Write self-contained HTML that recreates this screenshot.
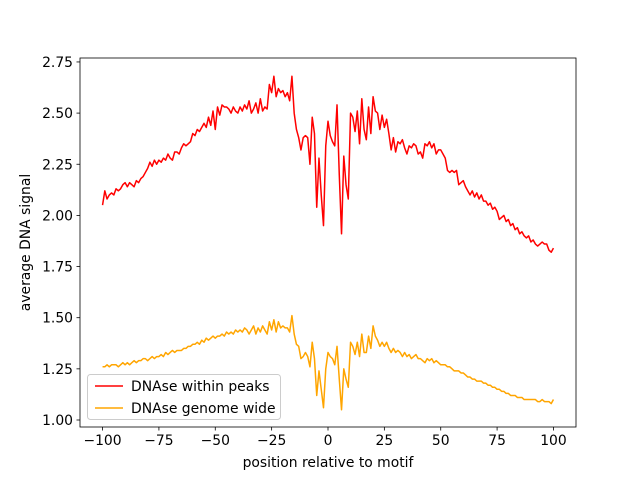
<!DOCTYPE html>
<html><head><meta charset="utf-8"><style>
body{margin:0;background:#fff}
svg text{font-family:"DejaVu Sans","Liberation Sans",sans-serif;font-size:13.9px;fill:#000}
</style></head><body>
<svg id="chart" width="640" height="480" xmlns="http://www.w3.org/2000/svg">
<rect x="0" y="0" width="640" height="480" fill="#fff"/>
<g id="plot"></g>
</svg>
<script>
const positions = [];
for (let i = -100; i <= 100; i++) positions.push(i);
const withinPeaks = [
2.05,2.12,2.08,2.10,2.11,2.10,2.13,2.12,2.13,2.15,2.16,2.14,2.16,2.15,2.14,2.17,2.16,2.18,2.19,2.21,2.23,2.26,2.24,2.27,2.25,
2.27,2.26,2.28,2.27,2.30,2.28,2.27,2.31,2.31,2.30,2.33,2.35,2.34,2.35,2.36,2.40,2.39,2.42,2.41,2.43,2.45,2.43,2.48,2.44,2.51,
2.42,2.53,2.49,2.54,2.53,2.53,2.52,2.50,2.53,2.51,2.50,2.53,2.51,2.54,2.52,2.56,2.50,2.52,2.55,2.50,2.57,2.51,2.53,2.52,2.64,
2.60,2.68,2.58,2.62,2.60,2.61,2.58,2.60,2.56,2.68,2.50,2.42,2.38,2.32,2.38,2.39,2.38,2.25,2.48,2.40,2.04,2.28,2.10,1.95,2.34,
2.46,2.39,2.36,2.34,2.54,2.20,1.91,2.29,2.15,2.08,2.50,2.48,2.41,2.51,2.35,2.57,2.42,2.37,2.53,2.40,2.58,2.51,2.50,2.42,2.49,
2.43,2.47,2.40,2.32,2.38,2.31,2.36,2.35,2.37,2.33,2.30,2.34,2.33,2.35,2.34,2.30,2.31,2.28,2.35,2.34,2.36,2.33,2.35,2.30,2.32,2.32,
2.30,2.28,2.22,2.21,2.22,2.21,2.22,2.15,2.16,2.17,2.14,2.12,2.10,2.12,2.09,2.11,2.08,2.10,2.07,2.07,2.05,2.06,2.03,2.04,2.02,
1.98,1.99,2.00,1.97,1.98,1.95,1.96,1.93,1.94,1.91,1.92,1.90,1.89,1.90,1.87,1.88,1.86,1.85,1.86,1.87,1.86,1.86,1.83,1.82,1.84];
const genomeWide = [
1.26,1.26,1.27,1.26,1.27,1.27,1.27,1.26,1.27,1.28,1.27,1.28,1.27,1.28,1.29,1.28,1.29,1.29,1.30,1.30,1.29,1.30,1.31,1.30,1.31,
1.31,1.32,1.31,1.33,1.32,1.33,1.34,1.33,1.34,1.34,1.34,1.35,1.35,1.36,1.36,1.37,1.37,1.38,1.37,1.39,1.38,1.40,1.39,1.40,1.41,
1.40,1.41,1.41,1.42,1.41,1.43,1.42,1.43,1.42,1.44,1.43,1.44,1.43,1.45,1.44,1.42,1.44,1.46,1.42,1.45,1.43,1.46,1.44,1.42,1.48,
1.44,1.49,1.43,1.48,1.45,1.46,1.45,1.45,1.43,1.51,1.42,1.37,1.36,1.30,1.31,1.33,1.31,1.26,1.38,1.30,1.12,1.24,1.15,1.06,1.25,
1.33,1.31,1.30,1.27,1.36,1.20,1.05,1.25,1.20,1.16,1.38,1.36,1.32,1.38,1.31,1.42,1.33,1.33,1.41,1.35,1.46,1.41,1.39,1.36,1.38,
1.36,1.38,1.35,1.33,1.35,1.33,1.34,1.33,1.31,1.33,1.31,1.32,1.30,1.31,1.32,1.30,1.30,1.29,1.28,1.30,1.29,1.30,1.28,1.29,1.28,1.27,
1.27,1.27,1.26,1.26,1.25,1.24,1.24,1.24,1.23,1.23,1.22,1.21,1.21,1.20,1.20,1.19,1.19,1.19,1.18,1.18,1.17,1.17,1.16,1.16,1.15,
1.15,1.14,1.14,1.13,1.13,1.12,1.12,1.12,1.11,1.11,1.11,1.10,1.10,1.10,1.10,1.10,1.10,1.09,1.09,1.10,1.09,1.09,1.09,1.08,1.10];
const xTicks = [-100,-75,-50,-25,0,25,50,75,100];
const yTicks = [1.00,1.25,1.50,1.75,2.00,2.25,2.50,2.75];

const L=80,R=576,T=58,B=427;
const xMin=-110,xMax=110;
function sx(v){return L+(v-xMin)/(xMax-xMin)*(R-L);}
function sy(v){return 420+(1.00-v)*204.6;}
const NS="http://www.w3.org/2000/svg";
const g=document.getElementById('plot');
function mk(tag,attrs){const e=document.createElementNS(NS,tag);for(const k in attrs)e.setAttribute(k,attrs[k]);g.appendChild(e);return e;}

function series(vals,color,name){
  const d=vals.map((v,i)=>(i?'L':'M')+sx(positions[i]).toFixed(2)+' '+sy(v).toFixed(2)).join(' ');
  const p=mk('path',{d:d,fill:'none',stroke:color,'stroke-width':1.5,'stroke-linejoin':'round'});
  
  
}
series(withinPeaks,'#ff0000','series-within-peaks');
series(genomeWide,'#ffa500','series-genome-wide');

const frame=mk('rect',{x:L,y:T,width:R-L,height:B-T,fill:'none',stroke:'#000','stroke-width':0.8});



xTicks.forEach(t=>{
  const x=sx(t);
  mk('line',{x1:x,y1:B,x2:x,y2:B+3.5,stroke:'#000','stroke-width':0.8});
  const tx=mk('text',{x:x,y:B+18,'text-anchor':'middle'});
  tx.textContent=String(t).replace('-','\u2212');
  
  
});
yTicks.forEach(t=>{
  const y=sy(t);
  mk('line',{x1:L-3.5,y1:y,x2:L,y2:y,stroke:'#000','stroke-width':0.8});
  const tx=mk('text',{x:L-7,y:y+5,'text-anchor':'end'});
  tx.textContent=t.toFixed(2);
  
  
});
const xl=mk('text',{x:(L+R)/2,y:467,'text-anchor':'middle'});
xl.textContent='position relative to motif';


const yl=mk('text',{x:0,y:0,'text-anchor':'middle',transform:'translate(30,'+((T+B)/2)+') rotate(-90)'});
yl.textContent='average DNA signal';



const lg=mk('rect',{x:87.5,y:374.5,width:193,height:45,rx:3,fill:'#fff','fill-opacity':0.8,stroke:'#ccc','stroke-width':1});


[['DNAse within peaks','#ff0000',386],['DNAse genome wide','#ffa500',408]].forEach(e=>{
  mk('line',{x1:95,y1:e[2],x2:123,y2:e[2],stroke:e[1],'stroke-width':1.5});
  const tx=mk('text',{x:131,y:e[2]+5});
  tx.textContent=e[0];
  
  
});
</script>
</body></html>
